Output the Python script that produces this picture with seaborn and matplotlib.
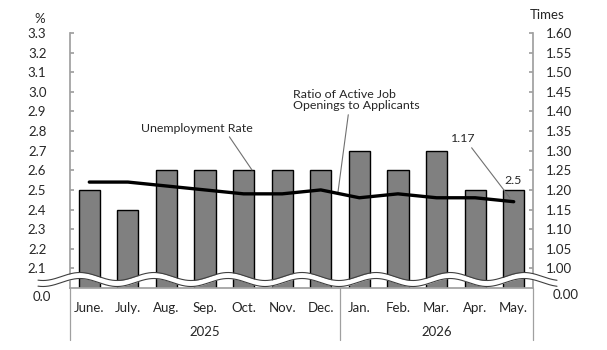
import numpy as np
import pandas as pd
import matplotlib
matplotlib.use("Agg")
import matplotlib.pyplot as plt
import seaborn as sns

months = ["June.", "July.", "Aug.", "Sep.", "Oct.", "Nov.", "Dec.",
          "Jan.", "Feb.", "Mar.", "Apr.", "May."]
years = ["2025", "2026"]
year_spans = [(0, 7), (7, 12)]
unemployment = [2.5, 2.4, 2.6, 2.6, 2.6, 2.6, 2.6, 2.7, 2.6, 2.7, 2.5, 2.5]
ratio = [1.22, 1.22, 1.21, 1.20, 1.19, 1.19, 1.20, 1.18, 1.19, 1.18, 1.18, 1.17]
left_ticks = [2.1, 2.2, 2.3, 2.4, 2.5, 2.6, 2.7, 2.8, 2.9, 3.0, 3.1, 3.2, 3.3]
right_ticks = [1.00, 1.05, 1.10, 1.15, 1.20, 1.25, 1.30, 1.35, 1.40, 1.45, 1.50, 1.55, 1.60]

sns.set_theme(style="white")
plt.rcParams["font.family"] = ["Lato", "DejaVu Sans"]
TXT = "#262626"
AXC = "#a0a0a0"
FS = 9.5
AFS = 8.9

W, H = 607, 350
fig = plt.figure(figsize=(W / 100, H / 100), dpi=100)
L, R, T, B = 70, 533, 33, 288
ax = fig.add_axes([L / W, 1 - B / H, (R - L) / W, (B - T) / H])

df = pd.DataFrame({"month": months, "rate": unemployment, "ratio": ratio,
                   "pos": np.arange(len(months))})
sns.barplot(data=df, x="month", y="rate", order=months, color="#808080",
            saturation=1, width=0.55, edgecolor="black", linewidth=1.0, ax=ax)
ax.set_xlim(-0.5, len(months) - 0.5)
ax.set_ylim(2.0, 3.3)
ax.set_yticks(left_ticks)
ax.set_yticklabels([f"{v:.1f}" for v in left_ticks])
ax.set_xlabel("")
ax.set_ylabel("")

ax2 = ax.twinx()
sns.lineplot(data=df, x="pos", y="ratio", color="black", linewidth=2.4, ax=ax2,
             sort=False)
ax2.set_ylim(0.95, 1.60)
ax2.set_yticks(right_ticks)
ax2.set_yticklabels([f"{v:.2f}" for v in right_ticks])
ax2.set_ylabel("")
ax2.set_xlabel("")
ax2.set_xlim(-0.5, len(months) - 0.5)

for a in (ax, ax2):
    for s in a.spines.values():
        s.set_visible(False)
ax.spines["left"].set_visible(True)
ax.spines["left"].set_color(AXC)
ax.spines["bottom"].set_visible(True)
ax.spines["bottom"].set_color(AXC)
ax2.spines["right"].set_visible(True)
ax2.spines["right"].set_color(AXC)

ax.tick_params(axis="y", direction="in", length=3, color=AXC, left=True,
               labelsize=FS, labelcolor=TXT, pad=17)
ax.tick_params(axis="x", length=0, labelsize=FS, labelcolor=TXT, pad=10)
ax2.tick_params(axis="y", direction="in", length=3, color=AXC, right=True,
                labelsize=FS, labelcolor=TXT, pad=9)

# extended axis lines and separator
ext = -(340 - B) / (B - T)
for xa in (0.0, 7 / 12, 1.0):
    ax.plot([xa, xa], [0, ext], transform=ax.transAxes, color=AXC, lw=0.9,
            clip_on=False)

# year labels
for yl, (s, e) in zip(years, year_spans):
    ax.text((s + e) / 2 / 12, -(332 - B) / (B - T), yl, transform=ax.transAxes,
            ha="center", va="center", fontsize=FS, color=TXT)

# zero labels
fig.text(42 / W, 1 - 297 / H, "0.0", ha="center", va="center", fontsize=FS, color=TXT)
fig.text(566 / W, 1 - 295 / H, "0.00", ha="center", va="center", fontsize=FS, color=TXT)
fig.text(40 / W, 1 - 19 / H, "%", ha="center", va="center", fontsize=FS, color=TXT)
fig.text(547 / W, 1 - 15 / H, "Times", ha="center", va="center", fontsize=FS, color=TXT)

# axis break wave
xs = np.linspace(38, 557, 600)
wave = 4.0 * np.cos(2 * np.pi * (xs - 80) / 74)
up = 276.5 - wave
lo = 282.5 - wave
fx = xs / W
ax2.fill_between(fx, 1 - up / H, 1 - lo / H, transform=fig.transFigure,
                 color="white", clip_on=False, zorder=10, lw=0)
ax2.plot(fx, 1 - up / H, transform=fig.transFigure, color="#404040", lw=0.8,
         clip_on=False, zorder=11)
ax2.plot(fx, 1 - lo / H, transform=fig.transFigure, color="#404040", lw=0.8,
         clip_on=False, zorder=11)

# annotations
def px2data(px, py):
    x = (px - L) / ((R - L) / 12) - 0.5
    y = 3.3 - (py - T) / ((B - T) / 1.3)
    return x, y

LC = "#707070"
ax.annotate("Unemployment Rate", xy=px2data(252, 170), xytext=px2data(197, 128),
            ha="center", va="center", fontsize=AFS, color=TXT,
            arrowprops=dict(arrowstyle="-", color=LC, lw=0.8,
                            shrinkA=0, shrinkB=0,
                            relpos=(0.77, 0.0)), annotation_clip=False)
ax.annotate("Ratio of Active Job\nOpenings to Applicants", xy=px2data(338, 192),
            xytext=px2data(293, 100), ha="left", va="center", fontsize=AFS,
            color=TXT, linespacing=1.1,
            arrowprops=dict(arrowstyle="-", color=LC, lw=0.8, shrinkA=0,
                            shrinkB=0, relpos=(0.44, 0.0)), annotation_clip=False)
ax.annotate("1.17", xy=px2data(510, 198), xytext=px2data(463, 139),
            ha="center", va="center", fontsize=AFS, color=TXT,
            arrowprops=dict(arrowstyle="-", color=LC, lw=0.8, shrinkA=0,
                            shrinkB=0, relpos=(0.75, 0.0)), annotation_clip=False)
ax.text(*px2data(513, 181), f"{unemployment[-1]:.1f}", ha="center", va="center",
        fontsize=AFS, color=TXT)

ax.set_zorder(1)
ax2.set_zorder(2)
ax2.patch.set_visible(False)

fig.savefig("out.png", dpi=100)
